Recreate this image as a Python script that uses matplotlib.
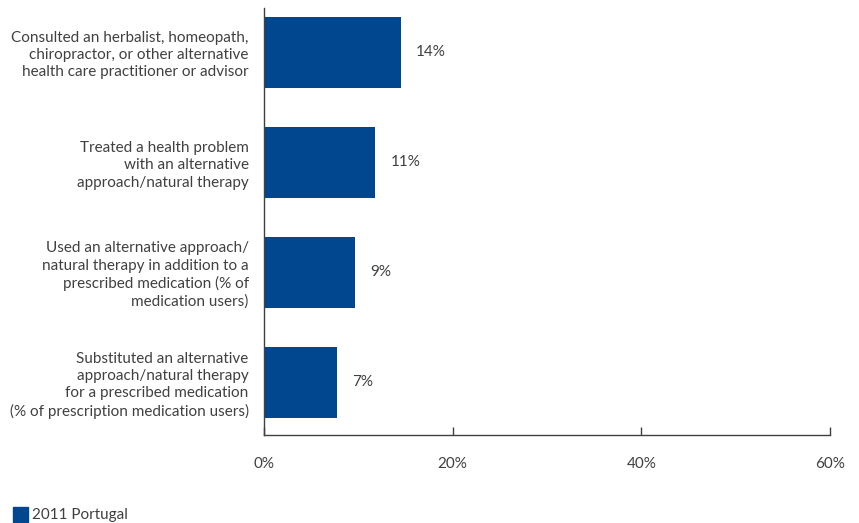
import matplotlib.pyplot as plt
from matplotlib.patches import Rectangle

plt.rcParams['font.family'] = ['Lato', 'DejaVu Sans']

# data
categories = [
    "Consulted an herbalist, homeopath,\nchiropractor, or other alternative\nhealth care practitioner or advisor",
    "Treated a health problem\nwith an alternative\napproach/natural therapy",
    "Used an alternative approach/\nnatural therapy in addition to a\nprescribed medication (% of\nmedication users)",
    "Substituted an alternative\napproach/natural therapy\nfor a prescribed medication\n(% of prescription medication users)",
]
values = [14.5, 11.8, 9.7, 7.7]
value_labels = ["14%", "11%", "9%", "7%"]
xticks = [0, 20, 40, 60]
series_name = "2011 Portugal"

blue = "#00478f"
grey = "#404040"
fs = 11

fig = plt.figure(figsize=(8.59, 5.23), dpi=100)
ax = fig.add_axes([0.3073, 0.1683, 0.6589, 0.8164])

ypos = list(range(len(categories)))
ax.barh(ypos, values, height=0.645, color=blue)

for y, v, lab in zip(ypos, values, value_labels):
    ax.text(v + 1.6, y, lab, va='center', ha='left', fontsize=fs, color=grey)

ax.set_xlim(0, 60)
ax.set_ylim(3.48, -0.4)
ax.set_xticks(xticks)
ax.set_xticklabels([f"{t}%" for t in xticks])
ax.tick_params(axis='x', direction='in', length=6, width=1, color=grey,
               labelcolor=grey, labelsize=fs, pad=16)
ax.set_yticks(ypos)
ax.set_yticklabels(categories, fontsize=fs, color=grey, linespacing=1.3, ha='right')
ax.tick_params(axis='y', length=0, pad=11)

for s in ['top', 'right']:
    ax.spines[s].set_visible(False)
for s in ['left', 'bottom']:
    ax.spines[s].set_color(grey)
    ax.spines[s].set_linewidth(1)

# legend
fig.patches.append(Rectangle((13 / 859, 1 - 522 / 523), 15 / 859, 15 / 523,
                             transform=fig.transFigure, color=blue))
fig.text(32 / 859, 1 - 515 / 523, series_name, fontsize=fs, color=grey,
         va='center', ha='left')

fig.savefig("out.png", dpi=100)
